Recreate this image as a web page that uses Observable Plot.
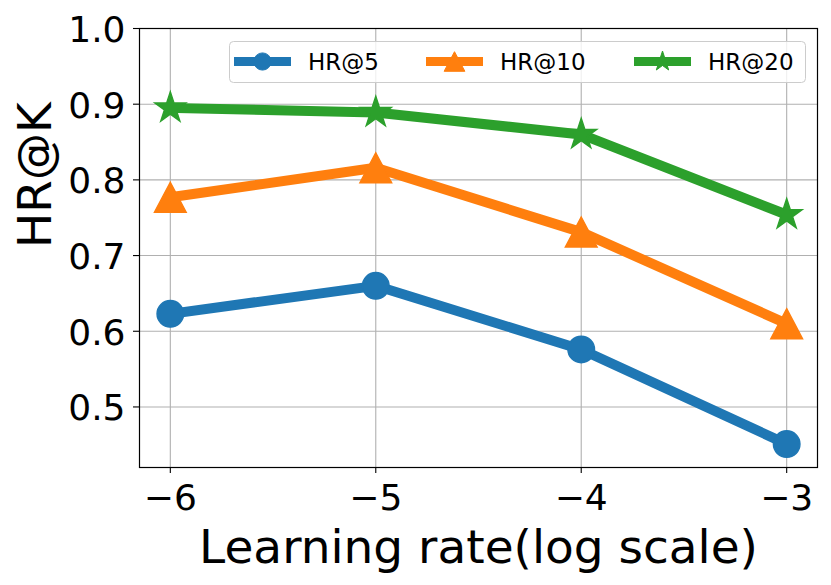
<!DOCTYPE html>
<html>
<head>
<meta charset="utf-8">
<script src="https://cdn.jsdelivr.net/npm/d3@7"></script>
<script src="https://cdn.jsdelivr.net/npm/@observablehq/plot@0.6"></script>
<style>
  html, body { margin: 0; padding: 0; background: white; }
  #wrap { position: relative; width: 831px; height: 585px; font-family: "DejaVu Sans", sans-serif; }
  #legend { position: absolute; left: 0; top: 0; pointer-events: none; }
</style>
</head>
<body>
<div id="wrap"></div>
<script>
// ---- data ----
const learningRates = [-6, -5, -4, -3];
const seriesNames = ["HR@5", "HR@10", "HR@20"];
const hr5 = [0.623, 0.660, 0.576, 0.451];
const hr10 = [0.777, 0.816, 0.731, 0.610];
const hr20 = [0.895, 0.889, 0.860, 0.754];
const xTicks = [-6, -5, -4, -3];
const yTicks = [0.5, 0.6, 0.7, 0.8, 0.9, 1.0];
const colors = ["#1f77b4", "#ff7f0e", "#2ca02c"];
const xLabel = "Learning rate(log scale)";
const yLabel = "HR@K";

// matplotlib-like marker shapes
const mplCircle = {draw(ctx, size) { const r = Math.sqrt(size / Math.PI); ctx.moveTo(r, 0); ctx.arc(0, 0, r, 0, 2 * Math.PI); ctx.closePath(); }};
const mplTriangle = {draw(ctx, size) { const r = Math.sqrt(size / Math.PI); ctx.moveTo(0, -r); ctx.lineTo(1.06 * r, r); ctx.lineTo(-1.06 * r, r); ctx.closePath(); }};
const mplStar = {draw(ctx, size) {
  const r = Math.sqrt(size / Math.PI), ri = r * 0.381966;
  for (let i = 0; i < 10; i++) {
    const a = -Math.PI / 2 + i * Math.PI / 5, rr = i % 2 ? ri : r;
    const x = rr * Math.cos(a), y = rr * Math.sin(a);
    if (i) ctx.lineTo(x, y); else ctx.moveTo(x, y);
  }
  ctx.closePath();
}};
const symbols = [mplCircle, mplTriangle, mplStar];
const markerR = [13.3, 15, 16.3];
const legendR = [8.6, 9.8, 10.5];

const seriesValues = [hr5, hr10, hr20];
const rows = seriesValues.map((vals, s) => learningRates.map((x, i) => ({x, y: vals[i], series: seriesNames[s]})));

const marks = [
  Plot.gridX(xTicks, {stroke: "#b0b0b0", strokeOpacity: 1, strokeWidth: 1.1}),
  Plot.gridY(yTicks, {stroke: "#b0b0b0", strokeOpacity: 1, strokeWidth: 1.1}),
];
rows.forEach((d, s) => {
  marks.push(Plot.line(d, {x: "x", y: "y", stroke: colors[s], strokeWidth: 10, strokeLinejoin: "round", strokeLinecap: "square"}));
  marks.push(Plot.dot(d, {x: "x", y: "y", r: markerR[s], symbol: symbols[s], fill: colors[s], stroke: colors[s], strokeWidth: 1.4}));
});
marks.push(
  Plot.frame({stroke: "black", strokeWidth: 1.2}),
  Plot.axisX({ticks: xTicks, tickSize: 6, tickPadding: 11, tickFormat: d3.format("d"), fontSize: 36, label: null, strokeWidth: 1.1, stroke: "black"}),
  Plot.axisY({ticks: yTicks, tickSize: 6, tickFormat: () => "", label: null, strokeWidth: 1.1, stroke: "black"}),
  Plot.axisY({ticks: yTicks, tickSize: 0, tickPadding: 14, dy: 2, tickFormat: d3.format(".1f"), fontSize: 36, label: null}),
  Plot.text([xLabel], {frameAnchor: "bottom", dy: 95, lineAnchor: "bottom", fontSize: 47, fill: "black"}),
  Plot.text([yLabel], {frameAnchor: "left", rotate: -90, dx: -89, lineAnchor: "bottom", fontSize: 47, fill: "black"})
);

const chart = Plot.plot({
  width: 831,
  height: 585,
  marginLeft: 139,
  marginRight: 14,
  marginTop: 28,
  marginBottom: 118,
  x: {domain: [-6.15, -2.85], axis: null},
  y: {domain: [0.42, 1.0], axis: null},
  style: {fontFamily: "DejaVu Sans", background: "white", color: "black", overflow: "visible"},
  marks
});
document.getElementById("wrap").appendChild(chart);

// ---- legend (overlay, top-right inside the axes) ----
const lg = d3.select("#wrap").append("svg").attr("id", "legend")
  .attr("width", 831).attr("height", 585)
  .style("font-family", "DejaVu Sans");
lg.append("rect").attr("x", 229.5).attr("y", 41.5).attr("width", 576).attr("height", 41)
  .attr("rx", 4).attr("fill", "white").attr("fill-opacity", 0.8).attr("stroke", "#cccccc").attr("stroke-width", 1);
const handleX = [234, 426, 634];
const textX = [308, 500, 708];
const cy = 61.5;
seriesNames.forEach((name, s) => {
  lg.append("line").attr("x1", handleX[s]).attr("x2", handleX[s] + 57).attr("y1", cy).attr("y2", cy)
    .attr("stroke", colors[s]).attr("stroke-width", 9);
  lg.append("path").attr("transform", `translate(${handleX[s] + 28.5},${cy})`)
    .attr("d", d3.symbol().type(symbols[s]).size(Math.PI * legendR[s] * legendR[s])())
    .attr("fill", colors[s]).attr("stroke", colors[s]).attr("stroke-width", 1);
  lg.append("text").attr("x", textX[s]).attr("y", 69.5).attr("font-size", 23).attr("fill", "black").text(name);
});
</script>
</body>
</html>
